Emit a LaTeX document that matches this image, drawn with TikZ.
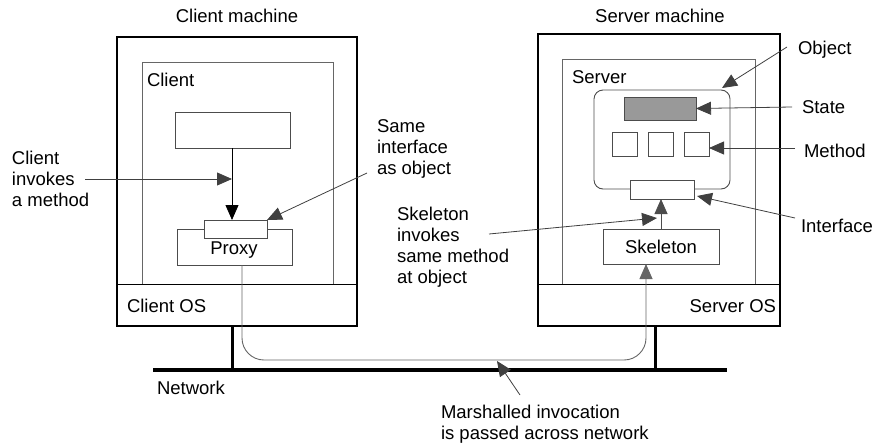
\documentclass[tikz,border=0pt]{standalone}
\usepackage{fontspec}
\setmainfont{Liberation Sans}
\usetikzlibrary{arrows.meta}
\begin{document}
\begin{tikzpicture}[x=1pt,y=-1pt,
  every node/.style={font=\fontsize{18.5}{21}\selectfont, inner sep=0pt, outer sep=0pt},
  machine/.style={draw=black, line width=2.3pt, anchor=north west, minimum width=#1},
  procbox/.style={draw=black!60, line width=0.9pt, anchor=north west},
  plainbox/.style={draw=black!70, line width=0.9pt, anchor=north west, fill=white},
  txt/.style={align=left, anchor=west},
  lead/.style={draw=black!75, line width=0.8pt, -{Triangle[length=15pt,width=13pt]}},
  stub/.style={line width=3pt, draw=black},
  msg/.style={draw=black!60, line width=0.9pt, rounded corners=22pt, -{Triangle[length=15pt,width=13pt]}}
]
\useasboundingbox (0,0) rectangle (877,447);
% titles
\node (cmt) at (237,16) {Client machine};
\node (smt) at (660,16) {Server machine};
% client machine
\node[machine=240pt, minimum height=289pt] (cm) at (117,37) {};
\node[procbox, minimum width=191pt, minimum height=222pt] (cp) at (142,62) {};
\coordinate (cosw) at (117,284);
\coordinate (cose) at (357,284);
\draw[black, line width=0.9pt] (cosw) -- (cose);
\node[txt] (cl) at (147,80) {Client};
\node[txt] (cos) at (127,306) {Client OS};
\node[plainbox, minimum width=115pt, minimum height=36pt] (cbox) at (175,112) {};
\node[plainbox, minimum width=115pt, minimum height=36pt] (proxy) at (177,229) {};
\node[plainbox, minimum width=63pt, minimum height=18pt] (piface) at (204,220) {};
\node (ptxt) at (234,250) {Proxy};
% server machine
\node[machine=242pt, minimum height=292pt] (sm) at (538,34) {};
\node[procbox, minimum width=193pt, minimum height=225pt] (sp) at (562,59) {};
\coordinate (sosw) at (538,284);
\coordinate (sose) at (780,284);
\draw[black, line width=0.9pt] (sosw) -- (sose);
\node[txt] (sl) at (572,77) {Server};
\node[anchor=east] (sos) at (776,306) {Server OS};
\node[procbox, draw=black!70, rounded corners=9pt, minimum width=136pt, minimum height=99pt] (obj) at (594,90) {};
\node[plainbox, fill=black!40, minimum width=72pt, minimum height=23pt] (state) at (624,97) {};
\node[plainbox, minimum width=25pt, minimum height=24pt] (m1) at (612,132) {};
\node[plainbox, minimum width=25pt, minimum height=24pt] (m2) at (648,132) {};
\node[plainbox, minimum width=25pt, minimum height=24pt] (m3) at (684,132) {};
\node[plainbox, minimum width=64pt, minimum height=19pt] (siface) at (630,180) {};
\node[plainbox, minimum width=116pt, minimum height=35pt] (skel) at (603,229) {};
\node (stxt) at (661,247) {Skeleton};
% network
\coordinate (nw) at (153,370);
\coordinate (ne) at (727,370);
\draw[line width=3.5pt] (nw) -- (ne);
\coordinate (cstub) at (232,370);
\coordinate (sstub) at (655,370);
\draw[stub] (cm.south -| cstub) -- (cstub);
\draw[stub] (sm.south -| sstub) -- (sstub);
\node[txt] (net) at (157,388) {Network};
% client internal arrow
\coordinate (ca) at (232,148);
\draw[lead, draw=black] (ca) -- (ca |- piface.north);
% labels and leaders
\node[txt] (cinv) at (12,179) {Client\\invokes\\a method};
\coordinate (cinvs) at (85,179);
\draw[lead] (cinvs) -- (ca |- cinvs);
\node[txt] (same) at (377,149) {Same\\interface\\as object};
\coordinate (sames) at (367,173);
\draw[lead] (sames) -- (piface.north east);
\node[txt] (skinv) at (397,247) {Skeleton\\invokes\\same method\\at object};
\coordinate (skinvs) at (489,234);
\coordinate (skinve) at (657,218);
\draw[lead] (skinvs) -- (skinve);
\draw[lead, draw=black!70] (skel.north) -- (skel.north |- siface.south);
\node[txt] (objl) at (798,50) {Object};
\coordinate (objs) at (787,47);
\coordinate (obje) at (722,88);
\draw[lead] (objs) -- (obje);
\node[txt] (statel) at (802,107) {State};
\coordinate (states) at (792,107);
\draw[lead] (states) -- (state.east);
\node[txt] (methl) at (804,151) {Method};
\coordinate (meths) at (795,148);
\draw[lead] (meths) -- (m3.east |- meths);
\node[txt] (ifl) at (801,226) {Interface};
\coordinate (ifs) at (795,218);
\coordinate (ife) at (697,196);
\draw[lead] (ifs) -- (ife);
% marshalled path
\coordinate (mp1) at (242,360);
\coordinate (mp2) at (646,360);
\draw[msg] (proxy.south -| mp1) -- (mp1) -- (mp2) -- (mp2 |- skel.south);
\node[txt] (marsh) at (441,424) {Marshalled invocation\\is passed across network};
\coordinate (marshs) at (520,395);
\coordinate (marshe) at (497,361);
\draw[lead] (marshs) -- (marshe);
\end{tikzpicture}
\end{document}
